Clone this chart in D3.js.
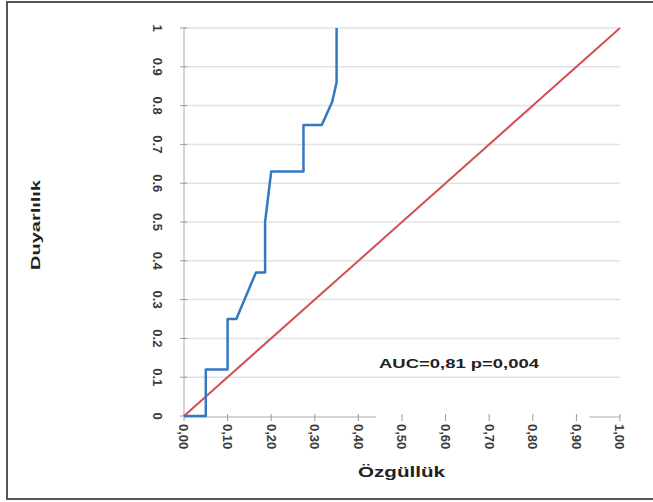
<!DOCTYPE html>
<html>
<head>
<meta charset="utf-8">
<script src="https://cdn.jsdelivr.net/npm/d3@7"></script>
<style>
  body { margin: 0; background: #fff; }
  text { font-family: 'Liberation Sans', Arial, sans-serif; }
</style>
</head>
<body>
<div id="chart"></div>
<script>
// Datos de la curva ROC (1 - especificidad, sensibilidad)
const fpr = [0, 0.05, 0.05, 0.10, 0.10, 0.12, 0.165, 0.186, 0.186, 0.20, 0.274, 0.274, 0.316, 0.34, 0.35, 0.35]
const tpr = [0, 0, 0.12, 0.12, 0.25, 0.25, 0.37, 0.37, 0.50, 0.63, 0.63, 0.75, 0.75, 0.81, 0.86, 1.0]
// Linea de referencia
const refX = [0, 1]
const refY = [0, 1]
// Ticks
const yTicks = [0, 0.1, 0.2, 0.3, 0.4, 0.5, 0.6, 0.7, 0.8, 0.9, 1]
const yTickLabels = ['0', '0.1', '0.2', '0.3', '0.4', '0.5', '0.6', '0.7', '0.8', '0.9', '1']
const xTicks = [0, 0.1, 0.2, 0.3, 0.4, 0.5, 0.6, 0.7, 0.8, 0.9, 1]
const xTickLabels = ['0,00', '0,10', '0,20', '0,30', '0,40', '0,50', '0,60', '0,70', '0,80', '0,90', '1,00']
const aucText = 'AUC=0,81 p=0,004'

const width = 653
const height = 502

const svg = d3.select('#chart').append('svg')
    .attr('width', width)
    .attr('height', height)

// Marco exterior
svg.append('rect')
    .attr('x', 7).attr('y', 2)
    .attr('width', 660).attr('height', 497)
    .attr('fill', 'none')
    .attr('stroke', '#555')
    .attr('stroke-width', 2)

const x = d3.scaleLinear().domain([0, 1]).range([184, 620])
const y = d3.scaleLinear().domain([0, 1]).range([416, 28])

// Rejilla horizontal
svg.append('g')
    .selectAll('line')
    .data(yTicks.slice(1))
    .enter()
    .append('line')
    .attr('x1', x(0)).attr('x2', x(1))
    .attr('y1', d => y(d)).attr('y2', d => y(d))
    .attr('stroke', '#e2e2e2')
    .attr('stroke-width', 1.5)

// Eje Y
const axisY = svg.append('g')
axisY.append('line')
    .attr('x1', x(0)).attr('x2', x(0))
    .attr('y1', y(0)).attr('y2', y(1))
    .attr('stroke', '#aaa')
axisY.selectAll('.tick')
    .data(yTicks)
    .enter()
    .append('line')
    .attr('x1', x(0) - 4).attr('x2', x(0) + 3)
    .attr('y1', d => y(d)).attr('y2', d => y(d))
    .attr('stroke', '#999')
axisY.selectAll('text')
    .data(yTicks)
    .enter()
    .append('text')
    .attr('transform', d => `translate(158, ${y(d)}) rotate(90)`)
    .attr('text-anchor', 'middle')
    .attr('dy', '0.35em')
    .attr('font-size', 13)
    .attr('font-weight', 'bold')
    .attr('fill', '#3a3a3a')
    .text((d, i) => yTickLabels[i])

// Eje X (linea parcial como en el original)
const axisX = svg.append('g')
axisX.append('line')
    .attr('x1', x(0)).attr('x2', x(0.44))
    .attr('y1', 417).attr('y2', 417)
    .attr('stroke', '#aaa')
axisX.append('line')
    .attr('x1', x(0.93)).attr('x2', x(1))
    .attr('y1', 417).attr('y2', 417)
    .attr('stroke', '#aaa')
axisX.selectAll('.tick')
    .data(xTicks)
    .enter()
    .append('line')
    .attr('x1', d => x(d)).attr('x2', d => x(d))
    .attr('y1', 414).attr('y2', 421)
    .attr('stroke', '#999')
axisX.selectAll('text')
    .data(xTicks)
    .enter()
    .append('text')
    .attr('transform', d => `translate(${x(d)}, 424) rotate(90)`)
    .attr('text-anchor', 'start')
    .attr('dy', '0.35em')
    .attr('font-size', 13)
    .attr('font-weight', 'bold')
    .attr('fill', '#3a3a3a')
    .text((d, i) => xTickLabels[i])

// Linea de referencia (roja)
const line = d3.line()
    .x(d => x(d[0]))
    .y(d => y(d[1]))

svg.append('path')
    .datum(refX.map((d, i) => [d, refY[i]]))
    .attr('d', line)
    .attr('fill', 'none')
    .attr('stroke', '#d24f52')
    .attr('stroke-width', 2)

// Curva ROC (azul)
svg.append('path')
    .datum(fpr.map((d, i) => [d, tpr[i]]))
    .attr('d', line)
    .attr('fill', 'none')
    .attr('stroke', '#3578c2')
    .attr('stroke-width', 2.5)
    .attr('stroke-linejoin', 'round')

// Textos
svg.append('text')
    .attr('x', 379).attr('y', 368)
    .attr('font-size', 13)
    .attr('font-weight', 'bold')
    .attr('fill', '#222')
    .attr('textLength', 160)
    .attr('lengthAdjust', 'spacingAndGlyphs')
    .text(aucText)

svg.append('text')
    .attr('x', 358).attr('y', 477)
    .attr('font-size', 14)
    .attr('font-weight', 'bold')
    .attr('fill', '#222')
    .attr('textLength', 87)
    .attr('lengthAdjust', 'spacingAndGlyphs')
    .text('Özgüllük')

svg.append('text')
    .attr('transform', 'translate(40, 225) rotate(-90)')
    .attr('text-anchor', 'middle')
    .attr('font-size', 13)
    .attr('font-weight', 'bold')
    .attr('fill', '#222')
    .attr('textLength', 90)
    .attr('lengthAdjust', 'spacingAndGlyphs')
    .text('Duyarlılık')
</script>
</body>
</html>
